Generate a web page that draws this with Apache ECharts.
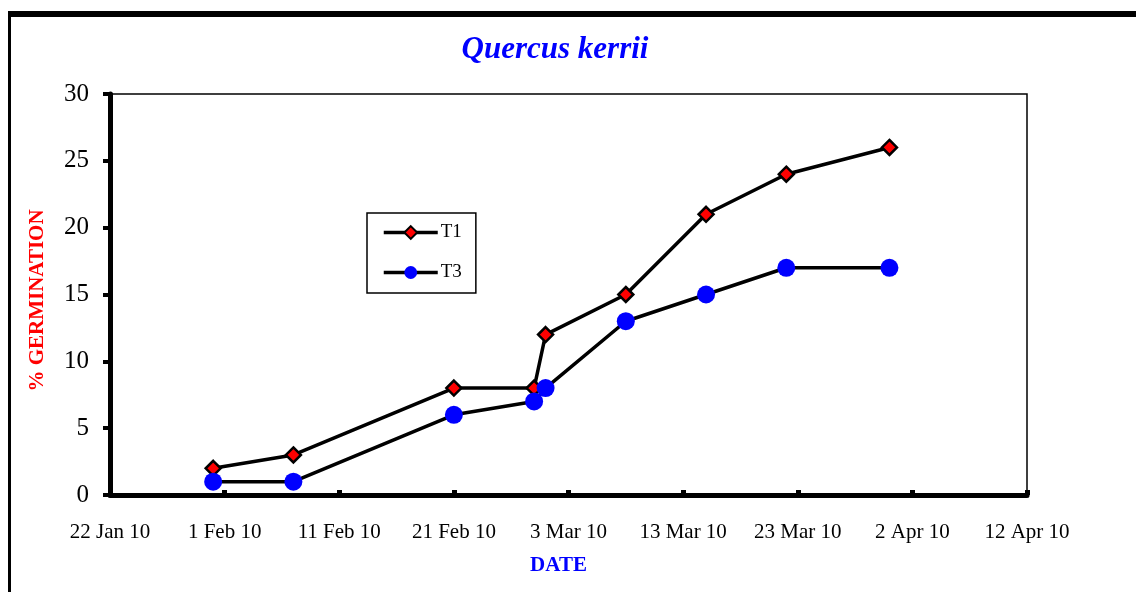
<!DOCTYPE html>
<html>
<head>
<meta charset="utf-8">
<script src="https://cdn.jsdelivr.net/npm/echarts@6/dist/echarts.min.js"></script>
<style>
  html, body { margin: 0; padding: 0; background: #fff; }
  #chart { width: 1136px; height: 592px; }
</style>
</head>
<body>
<div id="chart"></div>
<script>
// Observation dates and cumulative germination (%) for two treatments
const dates = ['2010-01-31', '2010-02-07', '2010-02-21', '2010-02-28', '2010-03-01',
               '2010-03-08', '2010-03-15', '2010-03-22', '2010-03-31'];
const t1 = [2, 3, 8, 8, 12, 15, 21, 24, 26];
const t3 = [1, 1, 6, 7, 8, 13, 15, 17, 17];

// Date axis runs from 22 Jan 2010 in 10-day steps
const axisStart = '2010-01-22';
const tickLabels = ['22 Jan 10', '1 Feb 10', '11 Feb 10', '21 Feb 10', '3 Mar 10',
                    '13 Mar 10', '23 Mar 10', '2 Apr 10', '12 Apr 10'];

const DAY = 86400000;
const startMs = Date.parse(axisStart);
const dayOf = d => Math.round((Date.parse(d) - startMs) / DAY);

const serif = 'Liberation Serif';

const chart = echarts.init(document.getElementById('chart'));
chart.setOption({
  backgroundColor: '#fff',
  animation: false,
  graphic: [
    { type: 'rect', shape: { x: 8, y: 11, width: 1140, height: 6 }, style: { fill: '#000' } },
    { type: 'rect', shape: { x: 8, y: 11, width: 3, height: 600 }, style: { fill: '#000' } }
  ],
  title: {
    text: 'Quercus kerrii',
    left: 550,
    top: 29,
    textAlign: 'center',
    textStyle: { fontFamily: serif, fontSize: 31, fontStyle: 'italic', fontWeight: 'bold', color: '#0000ff' }
  },
  grid: {
    left: 110, right: 109, top: 94, bottom: 97,
    show: true, borderColor: '#000', borderWidth: 1.5, backgroundColor: 'transparent'
  },
  legend: {
    orient: 'vertical',
    left: 367, top: 213,
    padding: [10, 14, 11, 15],
    itemWidth: 54, itemHeight: 16, itemGap: 21,
    borderColor: '#000', borderWidth: 1.5,
    backgroundColor: '#fff',
    lineStyle: { color: '#000', width: 3.5 },
    textStyle: { fontFamily: serif, fontSize: 19, color: '#000', padding: [0, 0, 0, -2] },
    data: ['T1', 'T3']
  },
  xAxis: {
    type: 'value',
    min: 0, max: (tickLabels.length - 1) * 10, interval: 10,
    name: 'DATE',
    nameLocation: 'middle',
    nameGap: 60,
    nameTextStyle: { fontFamily: serif, fontSize: 21, fontWeight: 'bold', color: '#0000ff', padding: [0, 20, 0, 0] },
    axisLine: { lineStyle: { color: '#000', width: 5 } },
    axisTick: { inside: true, length: 5, lineStyle: { color: '#000', width: 5 } },
    axisLabel: {
      margin: 27,
      fontFamily: serif, fontSize: 21, color: '#000',
      formatter: v => tickLabels[Math.round(v / 10)]
    },
    splitLine: { show: false }
  },
  yAxis: {
    type: 'value',
    min: 0, max: 30, interval: 5,
    name: '% GERMINATION',
    nameLocation: 'middle',
    nameGap: 62,
    nameRotate: 90,
    nameTextStyle: { fontFamily: serif, fontSize: 21, fontWeight: 'bold', color: '#ff0000', padding: [0, 12, 0, 0] },
    axisLine: { show: true, lineStyle: { color: '#000', width: 5 } },
    axisTick: { show: true, length: 7, lineStyle: { color: '#000', width: 4 } },
    axisLabel: { margin: 21, fontFamily: serif, fontSize: 25, color: '#000' },
    splitLine: { show: false }
  },
  series: [
    {
      name: 'T1',
      type: 'line',
      data: dates.map((d, i) => [dayOf(d), t1[i]]),
      symbol: 'diamond',
      symbolSize: 15,
      lineStyle: { color: '#000', width: 3.5 },
      itemStyle: { color: '#ff0000', borderColor: '#000', borderWidth: 2.5 },
      z: 3
    },
    {
      name: 'T3',
      type: 'line',
      data: dates.map((d, i) => [dayOf(d), t3[i]]),
      symbol: 'circle',
      symbolSize: 18,
      lineStyle: { color: '#000', width: 3.5 },
      itemStyle: { color: '#0000ff', borderWidth: 0 },
      z: 4
    }
  ]
});
</script>
</body>
</html>
